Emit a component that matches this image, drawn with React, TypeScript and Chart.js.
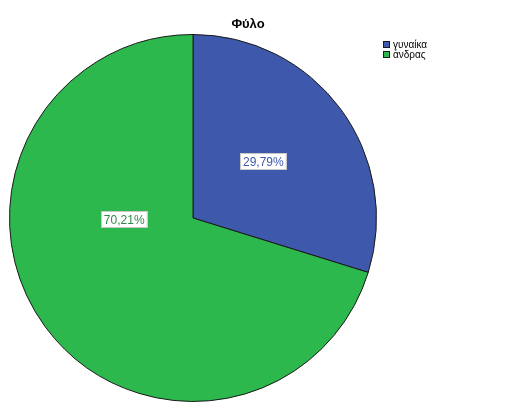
import { useEffect, useRef } from 'react';
import { Chart, registerables, type Plugin } from 'chart.js';

Chart.register(...registerables);

// Φύλο — pie of respondents by sex (SPSS-style output)
const TITLE = 'Φύλο';
const categories = ['γυναίκα', 'άνδρας'];
const percents = [29.79, 70.21];

const COLORS = ['#3e58ac', '#2db84d'];
const LABEL_TEXT = ['#3e58ac', '#2f8a46'];
const FONT = '"Liberation Sans", Arial, sans-serif';
// where the value label sits inside each slice: fraction of the sweep, fraction of the radius
const LABEL_SPOT = [
  { sweep: 0.48, r: 0.49 },
  { sweep: 0.64, r: 0.375 },
];

const fmt = (v: number) => v.toFixed(2).replace('.', ',') + '%';

const decorations: Plugin<'pie'> = {
  id: 'decorations',
  afterDatasetsDraw(chart) {
    const { ctx } = chart;
    const meta = chart.getDatasetMeta(0);
    ctx.save();

    // value labels in white boxes
    ctx.font = `12px ${FONT}`;
    ctx.textAlign = 'center';
    ctx.textBaseline = 'middle';
    meta.data.forEach((el, i) => {
      const a = el as any;
      const spot = LABEL_SPOT[i];
      const ang = a.startAngle + (a.endAngle - a.startAngle) * spot.sweep;
      const x = a.x + Math.cos(ang) * a.outerRadius * spot.r;
      const y = a.y + Math.sin(ang) * a.outerRadius * spot.r;
      const text = fmt(percents[i]);
      const w = ctx.measureText(text).width + 6;
      const h = 17;
      ctx.fillStyle = '#ffffff';
      ctx.fillRect(Math.round(x - w / 2), Math.round(y - h / 2), w, h);
      ctx.strokeStyle = '#c8c8c8';
      ctx.lineWidth = 1;
      ctx.strokeRect(Math.round(x - w / 2) + 0.5, Math.round(y - h / 2) + 0.5, w - 1, h - 1);
      ctx.fillStyle = LABEL_TEXT[i];
      ctx.fillText(text, x, y + 1);
    });

    // title
    ctx.fillStyle = '#000000';
    ctx.font = `bold 13px ${FONT}`;
    ctx.fillText(TITLE, 248, 24);

    // legend
    ctx.font = `10px ${FONT}`;
    ctx.textAlign = 'left';
    categories.forEach((c, i) => {
      const y = 41 + i * 10;
      ctx.fillStyle = COLORS[i];
      ctx.fillRect(383, y, 7, 7);
      ctx.strokeStyle = '#1a1a1a';
      ctx.strokeRect(383.5, y + 0.5, 6, 6);
      ctx.fillStyle = '#000000';
      ctx.fillText(c, 393, y + 4);
    });
    ctx.restore();
  },
};

export default function App() {
  const canvasRef = useRef<HTMLCanvasElement | null>(null);

  useEffect(() => {
    const el = canvasRef.current;
    if (!el) return;
    const chart = new Chart(el, {
      type: 'pie',
      data: {
        labels: categories,
        datasets: [
          {
            data: percents,
            backgroundColor: COLORS,
            borderColor: '#1a1a1a',
            borderWidth: 1,
          },
        ],
      },
      options: {
        animation: false,
        responsive: false,
        layout: { padding: { left: 9, right: 132, top: 34, bottom: 5 } },
        plugins: {
          legend: { display: false },
          title: { display: false },
          tooltip: { enabled: false },
        },
      },
      plugins: [decorations],
    });
    return () => chart.destroy();
  }, []);

  return (
    <div style={{ position: 'absolute', left: 0, top: 0, width: 509, height: 407, background: '#fff' }}>
      <canvas ref={canvasRef} width={509} height={407} />
    </div>
  );
}
